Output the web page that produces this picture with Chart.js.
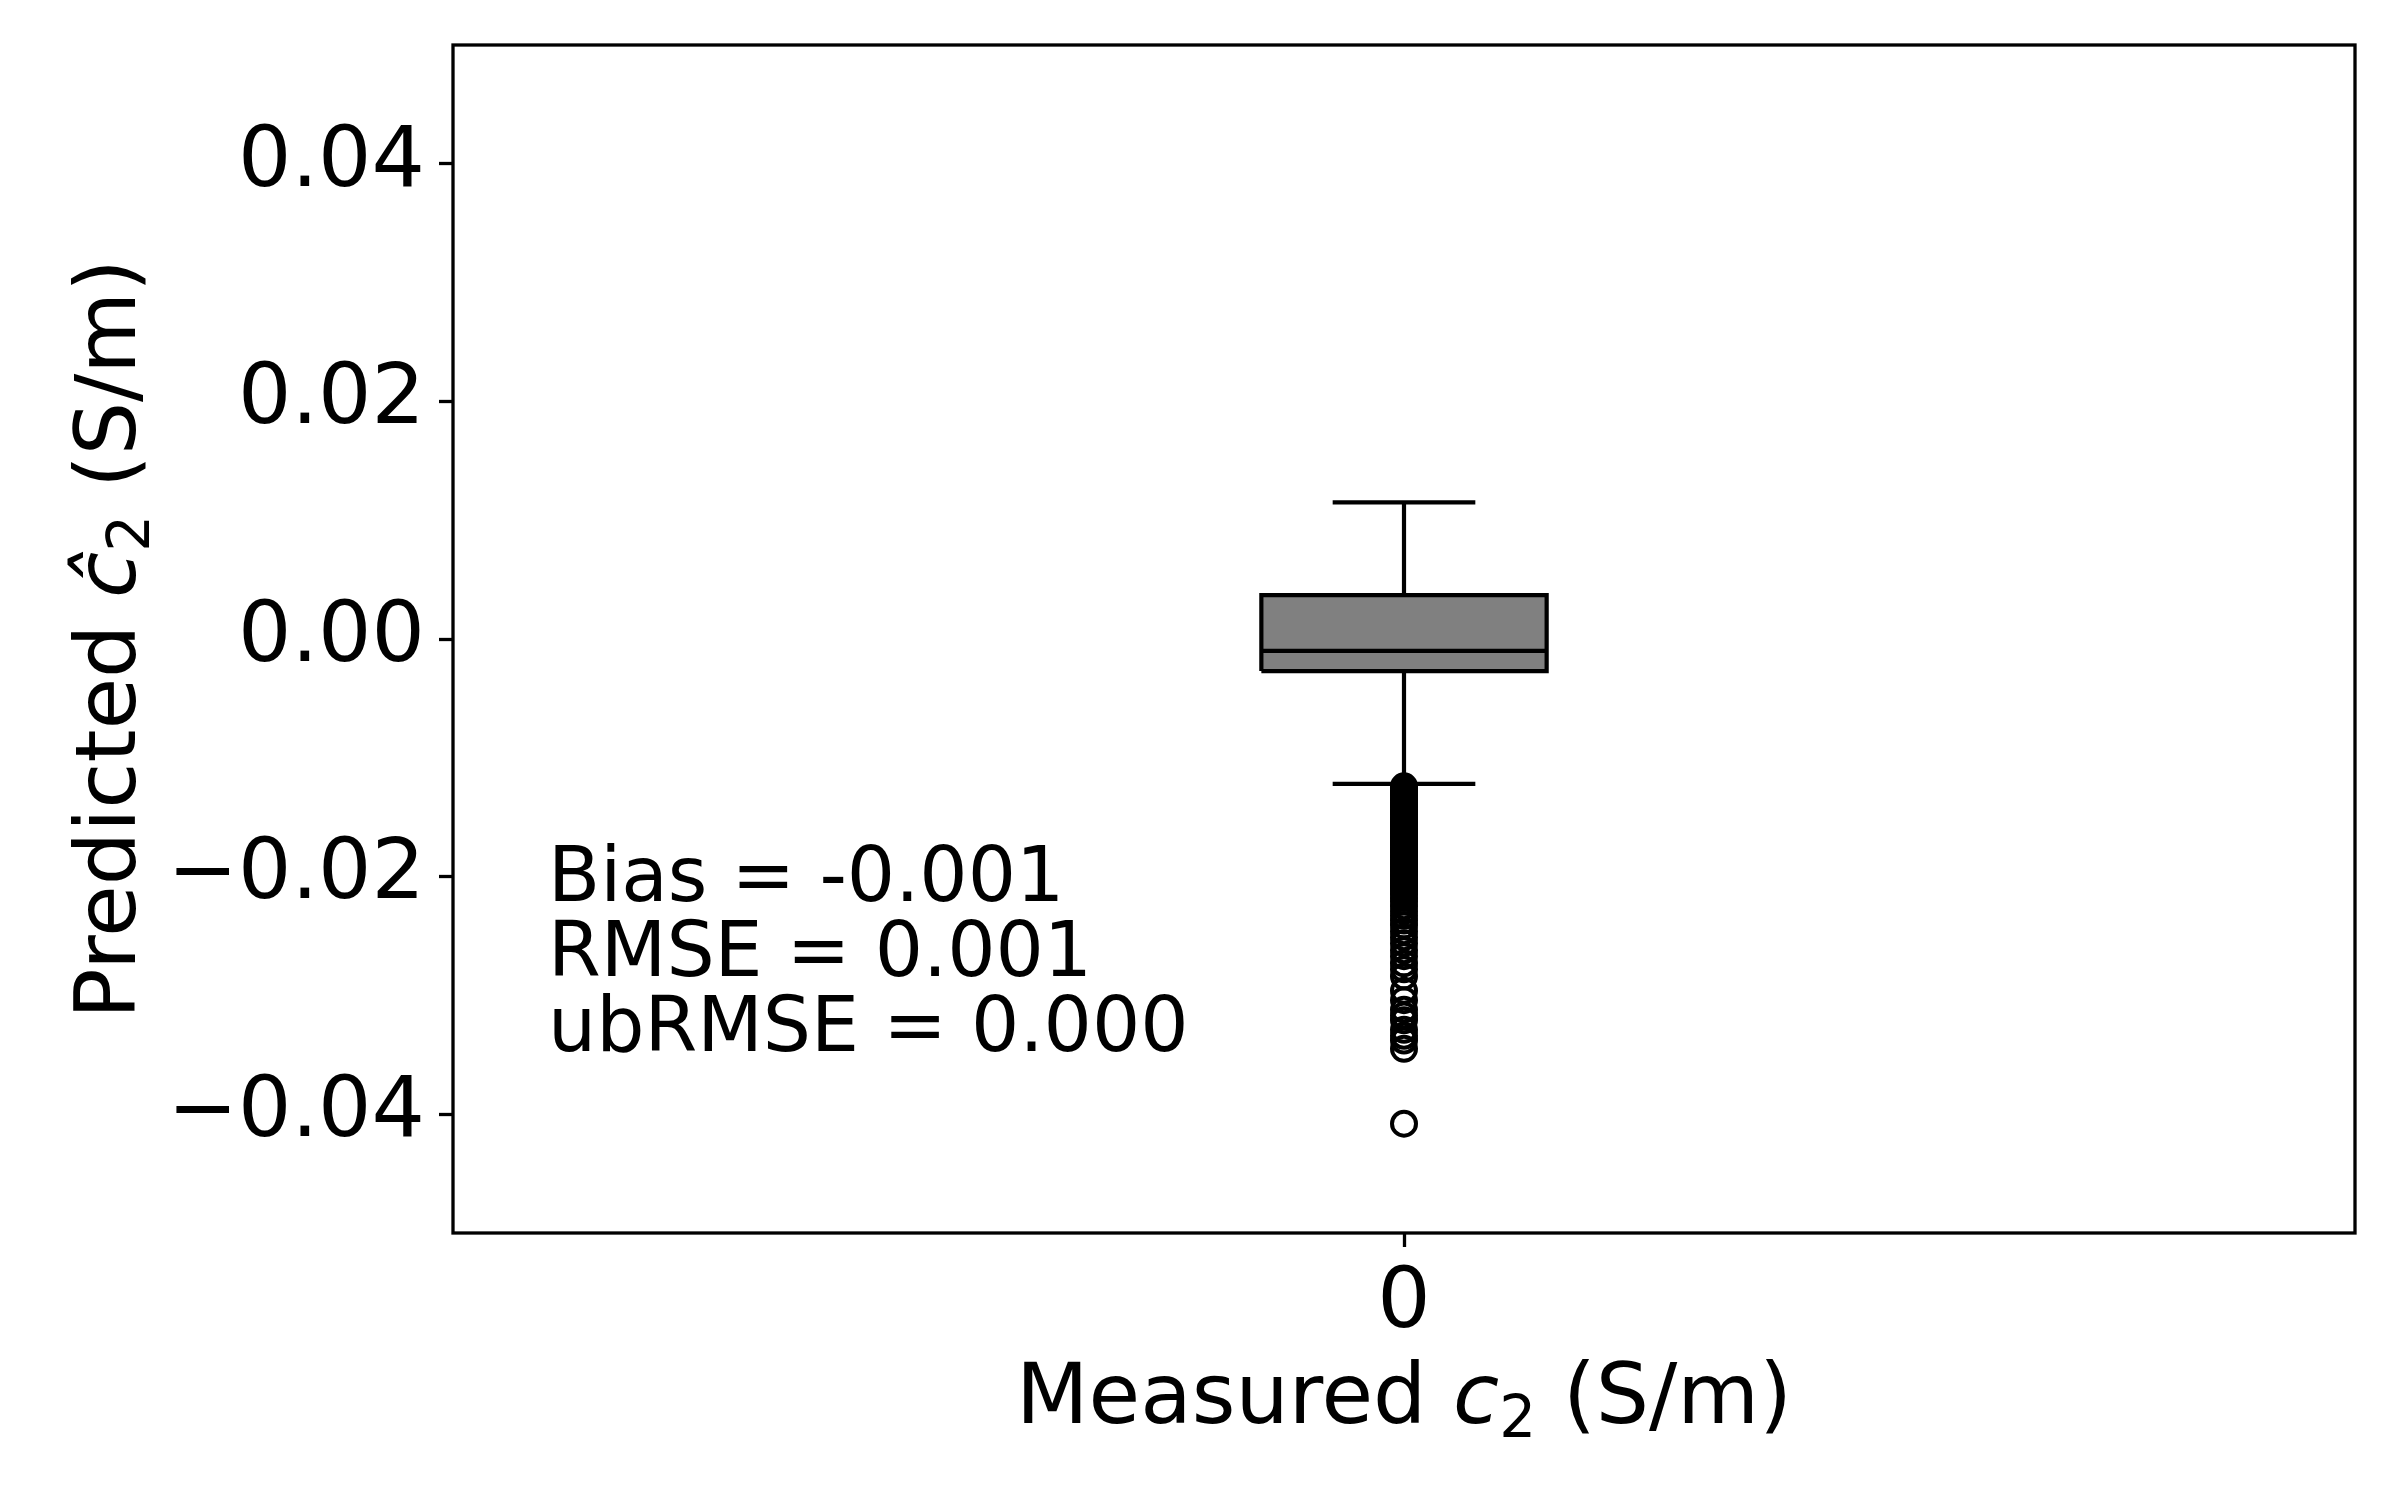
<!DOCTYPE html>
<html>
<head>
<meta charset="utf-8">
<title>Predicted vs Measured c2</title>
<script src="https://cdn.jsdelivr.net/npm/chart.js@4.4.1/dist/chart.umd.min.js"></script>
<style>
  html, body { margin: 0; padding: 0; background: #ffffff; }
</style>
</head>
<body>
<canvas id="chartCaja" width="2400" height="1500"></canvas>
<script>
// ── Datos del diagrama de caja ────────────────────────────────
const posicionesX   = [0];
const etiquetasX    = ['0'];
const cuartil1      = [-0.0027];
const mediana       = [-0.0010];
const cuartil3      = [0.0037];
const bigoteInf     = [-0.0122];
const bigoteSup     = [0.0115];

// valores atípicos (todos en x = 0)
const atipicos = [
    -0.0124, -0.0126, -0.0128, -0.0130, -0.0132, -0.0134, -0.0136, -0.0138,
    -0.0140, -0.0142, -0.0144, -0.0146, -0.0148, -0.0150, -0.0152, -0.0154,
    -0.0156, -0.0158, -0.0160, -0.0162, -0.0164, -0.0166, -0.0168, -0.0170,
    -0.0172, -0.0174, -0.0176, -0.0178, -0.0180, -0.0182, -0.0184, -0.0186,
    -0.0188, -0.0190, -0.0192, -0.0194, -0.0196, -0.0198, -0.0200, -0.0202,
    -0.0204, -0.0206, -0.0208, -0.0210, -0.0212, -0.0215, -0.0218, -0.0221,
    -0.0225, -0.0229, -0.0233, -0.0237, -0.0241, -0.0246, -0.0251, -0.0256,
    -0.0262, -0.0267, -0.0273, -0.0278, -0.0284, -0.0296, -0.0304, -0.0312,
    -0.0317, -0.0321, -0.0329, -0.0334, -0.0338, -0.0345, -0.0408
];

// ── Ejes ──────────────────────────────────────────────────────
const ticksY  = [-0.04, -0.02, 0.00, 0.02, 0.04];
const rangoY  = [-0.05, 0.05];
const rangoX  = [-1, 1];

// ── Texto de métricas ─────────────────────────────────────────
const lineasMetricas = ['Bias = -0.001', 'RMSE = 0.001', 'ubRMSE = 0.000'];

// ── Estilos ───────────────────────────────────────────────────
const NEGRO      = '#000000';
const GRIS_CAJA  = '#808080';
const MEDIA_CAJA = 0.15;   // semiancho de la caja en unidades de x
const MEDIA_TAPA = 0.075;  // semiancho de las tapas
const LW         = 4.2;
const FUENTE     = '"DejaVu Sans", sans-serif';

function fmtY(v) {
    if (Math.abs(v) < 1e-12) return '0.00';
    return (v < 0 ? '\u2212' : '') + Math.abs(v).toFixed(2);
}

// ── Construcción de datasets ──────────────────────────────────
const datasets = [];
posicionesX.forEach((x0, i) => {
    const izq = x0 - MEDIA_CAJA, der = x0 + MEDIA_CAJA;
    const tIzq = x0 - MEDIA_TAPA, tDer = x0 + MEDIA_TAPA;
    const linea = (pts, order) => ({
        data: pts, showLine: true, borderColor: NEGRO, borderWidth: LW,
        pointRadius: 0, fill: false, order: order, borderCapStyle: 'butt'
    });
    // relleno de la caja
    datasets.push({
        data: [{ x: izq, y: cuartil3[i] }, { x: der, y: cuartil3[i] }],
        showLine: true, borderWidth: 0, pointRadius: 0,
        backgroundColor: GRIS_CAJA, fill: { value: cuartil1[i] }, order: 10
    });
    // contorno
    datasets.push(linea([
        { x: izq, y: cuartil1[i] }, { x: der, y: cuartil1[i] },
        { x: der, y: cuartil3[i] }, { x: izq, y: cuartil3[i] },
        { x: izq, y: cuartil1[i] }
    ], 9));
    // bigotes
    datasets.push(linea([{ x: x0, y: cuartil3[i] }, { x: x0, y: bigoteSup[i] }], 8));
    datasets.push(linea([{ x: x0, y: cuartil1[i] }, { x: x0, y: bigoteInf[i] }], 8));
    // tapas
    datasets.push(linea([{ x: tIzq, y: bigoteSup[i] }, { x: tDer, y: bigoteSup[i] }], 7));
    datasets.push(linea([{ x: tIzq, y: bigoteInf[i] }, { x: tDer, y: bigoteInf[i] }], 7));
    // mediana
    datasets.push(linea([{ x: izq, y: mediana[i] }, { x: der, y: mediana[i] }], 6));
    // atípicos
    datasets.push({
        data: atipicos.map(v => ({ x: x0, y: v })),
        showLine: false, pointRadius: 12, pointBorderWidth: 4,
        pointBorderColor: NEGRO, pointBackgroundColor: 'rgba(0,0,0,0)',
        order: 1
    });
});

// ── Texto con subíndices / cursiva ────────────────────────────
function dibujarTramos(ctx, tramos, cx, cy) {
    let ancho = 0;
    tramos.forEach(t => { ctx.font = t.font; ancho += ctx.measureText(t.text).width; });
    let x = cx - ancho / 2;
    ctx.textBaseline = 'alphabetic';
    ctx.textAlign = 'left';
    tramos.forEach(t => {
        ctx.font = t.font;
        ctx.fillText(t.text, x, cy + (t.dy || 0));
        x += ctx.measureText(t.text).width;
    });
}

const normal  = '84px ' + FUENTE;
const cursiva = 'italic 84px ' + FUENTE;
const subind  = '58px ' + FUENTE;

const pluginTextos = {
    id: 'textos',
    afterDraw(chart) {
        const { ctx, chartArea: a } = chart;
        ctx.save();
        ctx.fillStyle = NEGRO;
        // marco
        ctx.strokeStyle = NEGRO;
        ctx.lineWidth = 3.3;
        ctx.strokeRect(a.left, a.top, a.right - a.left, a.bottom - a.top);

        // título eje x
        dibujarTramos(ctx, [
            { text: 'Measured ', font: normal },
            { text: 'c', font: cursiva },
            { text: '2', font: subind, dy: 14 },
            { text: ' (S/m)', font: normal }
        ], (a.left + a.right) / 2, 1423);

        // título eje y (girado)
        ctx.save();
        ctx.translate(135, (a.top + a.bottom) / 2);
        ctx.rotate(-Math.PI / 2);
        dibujarTramos(ctx, [
            { text: 'Predicted ', font: normal },
            { text: '\u0109', font: cursiva },
            { text: '2', font: subind, dy: 14 },
            { text: ' (S/m)', font: normal }
        ], 0, 0);
        ctx.restore();

        // métricas
        ctx.font = '76px ' + FUENTE;
        ctx.textAlign = 'left';
        ctx.textBaseline = 'alphabetic';
        lineasMetricas.forEach((l, k) => ctx.fillText(l, 548, 901 + k * 75));
        ctx.restore();
    }
};

function sinRelleno(s) {
    s.paddingTop = 0; s.paddingBottom = 0;
    s.paddingLeft = 0; s.paddingRight = 0;
}

// ── Gráfica ───────────────────────────────────────────────────
const ctxCaja = document.getElementById('chartCaja').getContext('2d');

new Chart(ctxCaja, {
    type: 'scatter',
    data: { datasets: datasets },
    options: {
        responsive: false,
        animation: false,
        events: [],
        layout: { padding: { top: 45, right: 45, left: 0, bottom: 0 } },
        plugins: {
            legend: { display: false },
            tooltip: { enabled: false }
        },
        scales: {
            x: {
                type: 'linear',
                min: rangoX[0],
                max: rangoX[1],
                afterBuildTicks: s => { s.ticks = posicionesX.map(v => ({ value: v })); },
                afterFit: s => { s.height = 267; sinRelleno(s); },
                ticks: {
                    callback: (v) => {
                        const k = posicionesX.indexOf(v);
                        return k >= 0 ? etiquetasX[k] : '';
                    },
                    color: NEGRO,
                    font: { family: FUENTE, size: 84 },
                    padding: 8,
                    maxRotation: 0
                },
                grid: {
                    drawOnChartArea: false,
                    drawTicks: true,
                    tickLength: 14,
                    tickWidth: 3.3,
                    tickColor: NEGRO
                },
                border: { display: false }
            },
            y: {
                type: 'linear',
                min: rangoY[0],
                max: rangoY[1],
                afterBuildTicks: s => { s.ticks = ticksY.map(v => ({ value: v })); },
                afterFit: s => { s.width = 453; sinRelleno(s); },
                ticks: {
                    callback: v => fmtY(v),
                    color: NEGRO,
                    font: { family: FUENTE, size: 84 },
                    padding: 14
                },
                grid: {
                    drawOnChartArea: false,
                    drawTicks: true,
                    tickLength: 14,
                    tickWidth: 3.3,
                    tickColor: NEGRO
                },
                border: { display: false }
            }
        }
    },
    plugins: [pluginTextos]
});
</script>
</body>
</html>
